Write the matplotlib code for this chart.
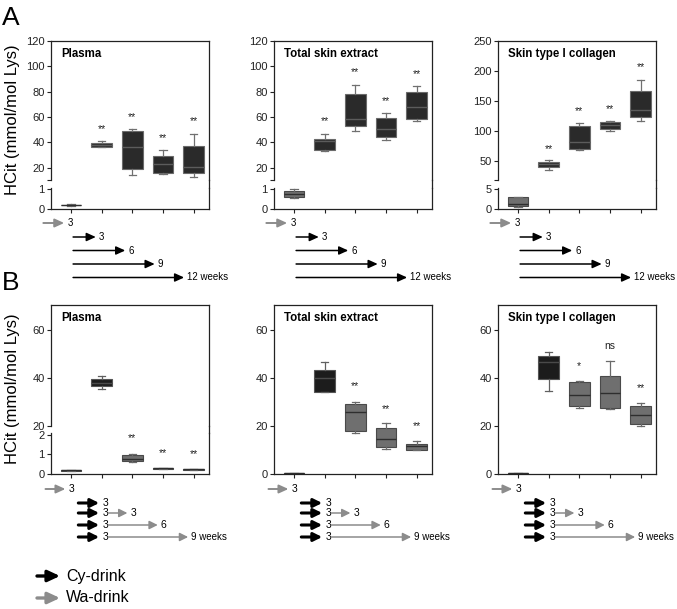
import matplotlib
matplotlib.use('Agg')

import matplotlib.pyplot as plt
from matplotlib.lines import Line2D
from matplotlib.patches import FancyArrowPatch
from matplotlib.transforms import blended_transform_factory

plt.rcParams['font.family'] = ['Liberation Sans', 'DejaVu Sans']

W, H = 677, 609

# box stats per group: (min, q1, median, q3, max)
a_plasma = [(0.16, 0.18, 0.20, 0.22, 0.23), (36.0, 36.6, 38.3, 39.8, 40.8),
            (14.5, 19.0, 36.0, 49.0, 50.3), (14.7, 15.8, 22.9, 29.5, 33.7),
            (12.6, 16.0, 20.5, 37.4, 46.6)]
a_total = [(0.54, 0.59, 0.74, 0.89, 0.98), (33.5, 33.8, 40.7, 43.0, 46.5),
           (48.7, 52.7, 58.2, 78.2, 85.4), (42.0, 44.1, 50.3, 59.6, 63.0),
           (57.2, 58.2, 67.8, 79.5, 84.6)]
a_coll = [(0.4, 0.7, 1.2, 3.1, 3.1), (34.4, 39.4, 45.0, 48.9, 51.0),
          (67.8, 70.6, 82.2, 108.3, 112.8), (100.6, 103.9, 110.0, 114.4, 117.2),
          (116.0, 124.0, 134.4, 167.2, 185.0)]
b_plasma = [(0.15, 0.17, 0.19, 0.21, 0.23), (35.5, 36.5, 38.0, 39.6, 40.7),
            (0.64, 0.65, 0.76, 0.98, 1.0), (0.27, 0.28, 0.30, 0.32, 0.33),
            (0.22, 0.23, 0.24, 0.25, 0.26)]
b_total = [(0.1, 0.15, 0.25, 0.4, 0.45), (34.0, 34.0, 40.0, 43.3, 46.8),
           (17.1, 17.8, 25.7, 29.3, 30.1), (10.3, 11.4, 14.4, 19.0, 21.1),
           (9.9, 10.1, 11.7, 12.6, 13.75)]
b_coll = [(0.1, 0.15, 0.25, 0.4, 0.45), (34.6, 39.6, 46.5, 49.2, 51.0),
          (27.4, 28.2, 32.8, 38.2, 38.9), (27.2, 27.4, 33.6, 41.0, 47.2),
          (19.9, 20.7, 24.4, 28.3, 29.7)]

a_kinds = ['wa', 'cyA', 'cyA', 'cyA', 'cyA']
b_kinds = ['wa', 'cyB', 'wa', 'wa', 'wa']

# significance marks and their heights
a_plasma_sig = ['', '**', '**', '**', '**']
a_plasma_sig_y = [0, 50.8, 60, 43.7, 57]
a_total_sig = ['', '**', '**', '**', '**']
a_total_sig_y = [0, 56.6, 95.2, 72.6, 93.9]
a_coll_sig = ['', '**', '**', '**', '**']
a_coll_sig_y = [0, 70, 133, 137, 206]
b_plasma_sig = ['', '', '**', '**', '**']
b_plasma_sig_y = [0, 0, 1.83, 1.07, 1.02]
b_total_sig = ['', '', '**', '**', '**']
b_total_sig_y = [0, 0, 36.5, 27, 19.9]
b_coll_sig = ['', '', '*', 'ns', '**']
b_coll_sig_y = [0, 0, 45.1, 53.3, 36]

titles = ['Plasma', 'Total skin extract', 'Skin type I collagen']

a_weeks = [3, 6, 9, 12]
a_week_labels = ['3', '6', '9', '12 weeks']
b_wa_weeks = [3, 6, 9]
b_wa_labels = ['3', '6', '9 weeks']

STYLE = {
    'wa':  ('#6f6f6f', '#4a4a4a', '#2e2e2e', '#6a6a6a'),
    'cyA': ('#2a2a2a', '#6a6a6a', '#5c5c5c', '#707070'),
    'cyB': ('#1c1c1c', '#555555', '#4a4a4a', '#606060'),
}
GRAY_ARROW = '#8c8c8c'
SPINE = '#222222'

fig = plt.figure(figsize=(W / 100, H / 100), dpi=100)
fig.patch.set_facecolor('white')


def px_axes(x, top, w, bottom):
    return fig.add_axes([x / W, 1 - bottom / H, w / W, (bottom - top) / H])


def style_ax(ax, ylim, yticks, ylabels, show_top=True, show_bottom=True):
    ax.set_xlim(-0.65, 4.5)
    ax.set_ylim(*ylim)
    ax.set_yticks(yticks)
    ax.set_yticklabels(ylabels)
    for s in ax.spines.values():
        s.set_color(SPINE)
        s.set_linewidth(0.9)
    ax.spines['top'].set_visible(show_top)
    ax.spines['bottom'].set_visible(show_bottom)
    ax.tick_params(axis='y', labelsize=8, length=3, width=0.8, pad=1.5, colors=SPINE)
    if show_bottom:
        ax.set_xticks(range(5))
        ax.set_xticklabels([])
        ax.tick_params(axis='x', length=3, width=0.8, colors=SPINE)
    else:
        ax.set_xticks([])


def draw_boxes(ax, stats, kinds):
    for i, (s, k) in enumerate(zip(stats, kinds)):
        fc, ec, mc, wc = STYLE[k]
        st = dict(whislo=s[0], q1=s[1], med=s[2], q3=s[3], whishi=s[4])
        ax.bxp([st], positions=[i], widths=0.68, capwidths=0.24, patch_artist=True,
               showfliers=False, manage_ticks=False,
               boxprops=dict(facecolor=fc, edgecolor=ec, linewidth=0.8),
               medianprops=dict(color=mc, linewidth=1.0),
               whiskerprops=dict(color=wc, linewidth=0.9),
               capprops=dict(color=wc, linewidth=0.9))


def draw_sig(ax, marks, ys):
    for i, (m, y) in enumerate(zip(marks, ys)):
        if m:
            fs = 7.5 if m == 'ns' else 7.5
            ax.text(i, y, m, ha='center', va='center', fontsize=fs, color='#222222')


def title(x, top, text):
    fig.text((x + 10) / W, 1 - (top + 13) / H, text, fontsize=8.3, fontweight='bold',
             ha='left', va='center')


def connect_right(ax_up, ax_lo):
    xr = ax_up.get_position().x1
    fig.add_artist(Line2D([xr, xr], [ax_lo.get_position().y1, ax_up.get_position().y0],
                          transform=fig.transFigure, color=SPINE, lw=0.9))


def arrow(ax, x0, x1, ypx, color, lw=1.2, label=None, hl=0.55, hw=0.25, fs=7):
    tr = blended_transform_factory(ax.transData, fig.transFigure)
    y = 1 - ypx / H
    ax.annotate('', xy=(x1, y), xytext=(x0, y), xycoords=tr, textcoords=tr,
                annotation_clip=False,
                arrowprops=dict(arrowstyle=f'-|>,head_length={hl},head_width={hw}',
                                color=color, lw=lw, shrinkA=0, shrinkB=0))
    if label:
        ax.text(x1 + 0.1, y, label, transform=tr, fontsize=fs, ha='left', va='center',
                clip_on=False)


lefts = [51, 274, 498]
cw = 158

# ---------------- Row A (broken axes) ----------------
a_sets = [(a_plasma, a_plasma_sig, a_plasma_sig_y, (10.3, 120), [10.3, 20, 40, 60, 80, 100, 120],
           (0, 1.05), [0, 1]),
          (a_total, a_total_sig, a_total_sig_y, (10.3, 120), [10.3, 20, 40, 60, 80, 100, 120],
           (0, 1.05), [0, 1]),
          (a_coll, a_coll_sig, a_coll_sig_y, (18.3, 250), [18.3, 50, 100, 150, 200, 250],
           (0, 5.25), [0, 5])]

for j, (stats, sig, sig_y, ylu, yticks_u, yll, yticks_l) in enumerate(a_sets):
    x = lefts[j]
    up = px_axes(x, 41, cw, 180)
    lo = px_axes(x, 188, cw, 209)
    style_ax(up, ylu, yticks_u, [''] + [str(t) for t in yticks_u[1:]], show_bottom=False)
    style_ax(lo, yll, yticks_l, [str(t) for t in yticks_l], show_top=False)
    for ax in (up, lo):
        draw_boxes(ax, stats, a_kinds)
    draw_sig(up, sig, sig_y)
    connect_right(up, lo)
    title(x, 41, titles[j])
    # timeline arrows
    arrow(lo, -0.9, -0.22, 223, GRAY_ARROW, lw=1.4, label='3')
    for k, (w, lab) in enumerate(zip(a_weeks, a_week_labels)):
        arrow(lo, 0.07, -0.15 + 0.32 * w, 237 + k * 13.5, 'black', lw=1.1, label=lab)

# ---------------- Row B ----------------
b_sets = [(b_plasma, b_plasma_sig, b_plasma_sig_y), (b_total, b_total_sig, b_total_sig_y),
          (b_coll, b_coll_sig, b_coll_sig_y)]
b_rows = [503, 513, 525, 537]

for j, (stats, sig, sig_y) in enumerate(b_sets):
    x = lefts[j]
    if j == 0:
        up = px_axes(x, 305, cw, 426)
        lo = px_axes(x, 433, cw, 474)
        style_ax(up, (20, 70.4), [20, 40, 60], ['20', '40', '60'], show_bottom=False)
        style_ax(lo, (0, 2.1), [0, 1, 2], ['0', '1', '2'], show_top=False)
        for ax in (up, lo):
            draw_boxes(ax, stats, b_kinds)
        draw_sig(lo, sig, sig_y)
        connect_right(up, lo)
    else:
        lo = px_axes(x, 305, cw, 474)
        style_ax(lo, (0, 70.4), [0, 20, 40, 60], ['0', '20', '40', '60'])
        draw_boxes(lo, stats, b_kinds)
        draw_sig(lo, sig, sig_y)
    title(x, 305, titles[j])
    arrow(lo, -0.83, -0.18, 489, GRAY_ARROW, lw=1.4, label='3', fs=7.5)
    for r in b_rows:
        arrow(lo, 0.24, 0.92, r, 'black', lw=2.2, label='3', hl=0.5, hw=0.25, fs=7.5)
    for r, w, lab in zip(b_rows[1:], b_wa_weeks, b_wa_labels):
        arrow(lo, 1.22, 0.85 + 0.33 * w, r, GRAY_ARROW, lw=1.1, label=lab, hl=0.5, hw=0.25,
              fs=7.5 if w < 9 else 7)

# y labels and panel letters
for yc in (120, 389):
    fig.text(13 / W, 1 - yc / H, 'HCit (mmol/mol Lys)', rotation=90, fontsize=12,
             ha='center', va='center')
fig.text(2 / W, 1 - 18 / H, 'A', fontsize=19, ha='left', va='center')
fig.text(2 / W, 1 - 283 / H, 'B', fontsize=19, ha='left', va='center')

# legend
for ypx, col, lab in ((576, 'black', 'Cy-drink'), (598, GRAY_ARROW, 'Wa-drink')):
    y = 1 - ypx / H
    fig.add_artist(FancyArrowPatch(
        (37 / W, y), (60 / W, y), transform=fig.transFigure,
        arrowstyle='-|>,head_length=0.6,head_width=0.28', mutation_scale=12,
        color=col, lw=2.4, shrinkA=0, shrinkB=0))
    fig.text(66 / W, y, lab, fontsize=11.5, ha='left', va='center')

fig.savefig('out.png', dpi=100, facecolor='white')
